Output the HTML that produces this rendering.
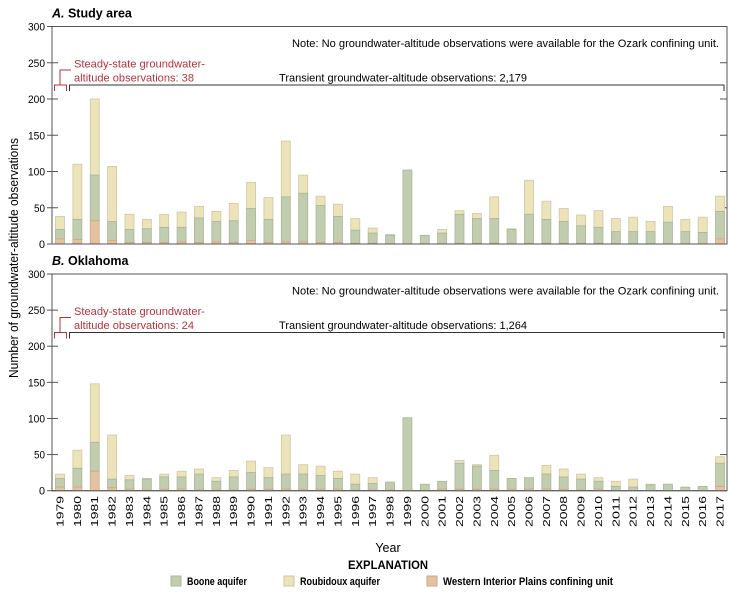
<!DOCTYPE html>
<html><head><meta charset="utf-8"><style>
body{margin:0;background:#fff}
svg{display:block;font-family:"Liberation Sans",sans-serif}
</style></head><body>
<svg id="s" width="733" height="593" xmlns="http://www.w3.org/2000/svg"></svg>
<script>
const A=[[38,20,7],[110,34,6],[200,95,32],[107,31,5],[41,20,2],[34,21,2],[41,23,2],[44,23,3],[52,36,2],[45,31,3],[56,32,2],[85,49,5],[64,34,2],[142,65,3],[95,70,3],[66,53,2],[55,38,2],[35,19,1],[22,15,1],[13,12,0],[102,102,0],[12,12,0],[20,15,0],[46,41,1],[42,35,1],[65,35,1],[21,20,0],[88,41,1],[59,34,1],[49,31,1],[40,25,1],[46,23,1],[35,17,0],[37,17,0],[31,17,0],[52,30,0],[34,17,0],[37,16,0],[66,45,7]];
const B=[[23,17,5],[56,31,5],[148,67,27],[77,16,4],[21,15,2],[17,16,1],[23,19,2],[27,19,2],[30,23,1],[18,13,1],[28,19,1],[41,25,2],[32,18,2],[77,23,2],[36,23,2],[34,21,2],[27,17,2],[23,9,1],[18,10,1],[12,12,1],[101,101,0],[9,9,0],[13,13,2],[42,38,2],[36,34,2],[49,28,2],[17,17,2],[18,18,2],[35,23,2],[30,19,2],[23,16,1],[18,13,2],[13,6,0],[16,5,0],[9,8,0],[9,9,0],[5,5,0],[6,6,0],[47,38,6]];
let h='';
const L=52,R=727,X0=60,DX=17.37,BW=9;
function panel(d,top,zero,title,ss,tr){
 const k=(zero-top)/300;
 h+=`<text x="${L}" y="${top-9}" font-size="12.5" font-weight="bold"><tspan font-style="italic">${title[0]}.</tspan> ${title[1]}</text>`;
 h+=`<rect x="${L}" y="${top}" width="${R-L}" height="${zero-top}" fill="none" stroke="#555" stroke-width="1"/>`;
 for(let v=0;v<=300;v+=50){const y=zero-v*k;
  h+=`<line x1="47" x2="58" y1="${y}" y2="${y}" stroke="#555"/>`;
  h+=`<line x1="720" x2="${R}" y1="${y}" y2="${y}" stroke="#555"/>`;
  h+=`<text x="45" y="${y+4}" font-size="11" text-anchor="end" textLength="${v<100?(v?11:6):17}" lengthAdjust="spacingAndGlyphs">${v}</text>`;}
 d.forEach((r,i)=>{const x=X0+i*DX-BW/2;const [t,b,w]=r;
  const seg=(lo,hi,c,s)=>{if(hi>lo)h+=`<rect x="${x}" y="${zero-hi*k}" width="${BW}" height="${(hi-lo)*k}" fill="${c}" stroke="${s}" stroke-width="0.8"/>`;};
  seg(b,t,'#ede3b8','#cfc7a6');seg(w,b,'#c2cdb0','#a9b59a');seg(0,w,'#e5c29f','#c9a988');});
 const o=top-26.5;
 h+=`<text x="292" y="${47+o}" font-size="11" textLength="427" lengthAdjust="spacingAndGlyphs">Note: No groundwater-altitude observations were available for the Ozark confining unit.</text>`;
 h+=`<text x="279" y="${81.5+o}" font-size="11" textLength="248" lengthAdjust="spacingAndGlyphs">${tr}</text>`;
 h+=`<text x="74" y="${67.5+o}" font-size="11" fill="#b8323c" textLength="131" lengthAdjust="spacingAndGlyphs">Steady-state groundwater-</text>`;
 h+=`<text x="74" y="${81.5+o}" font-size="11" fill="#b8323c" textLength="120" lengthAdjust="spacingAndGlyphs">altitude observations: ${ss}</text>`;
 h+=`<path d="M71 ${70+o}H60V${85+o}M54.5 ${91+o}V${85+o}H66.5V${91+o}" fill="none" stroke="#b8323c"/>`;
 h+=`<path d="M69.5 ${91+o}V${85+o}H724V${91+o}" fill="none" stroke="#333"/>`;
 h+=`<line x1="${L}" x2="${R}" y1="${zero}" y2="${zero}" stroke="#555"/>`;
}
panel(A,26.5,244,['A','Study area'],'38','Transient groundwater-altitude observations: 2,179');
panel(B,274,490.7,['B','Oklahoma'],'24','Transient groundwater-altitude observations: 1,264');
for(let i=0;i<39;i++){const x=X0+i*DX+3.5;
 h+=`<text transform="translate(${x},496) rotate(-90)" font-size="10" text-anchor="end" textLength="31" lengthAdjust="spacingAndGlyphs">${1979+i}</text>`;}
h+=`<text transform="translate(18,258) rotate(-90)" font-size="12.5" text-anchor="middle" textLength="240" lengthAdjust="spacingAndGlyphs">Number of groundwater-altitude observations</text>`;
h+=`<text x="388" y="552" font-size="12.5" text-anchor="middle">Year</text>`;
h+=`<text x="388" y="569" font-size="12" font-weight="bold" text-anchor="middle" textLength="80" lengthAdjust="spacingAndGlyphs">EXPLANATION</text>`;
const lg=[[171,'#c2cdb0','#a9b59a','Boone aquifer',60],[284,'#ede3b8','#cfc7a6','Roubidoux aquifer',80],[427,'#e5c29f','#c9a988','Western Interior Plains confining unit',170]];
lg.forEach(([x,c,s,t,w])=>{h+=`<rect x="${x}" y="576" width="10" height="10" fill="${c}" stroke="${s}"/><text x="${x+16}" y="585" font-size="11" font-weight="bold" textLength="${w}" lengthAdjust="spacingAndGlyphs">${t}</text>`;});
document.getElementById('s').innerHTML=h;
</script>
</body></html>
